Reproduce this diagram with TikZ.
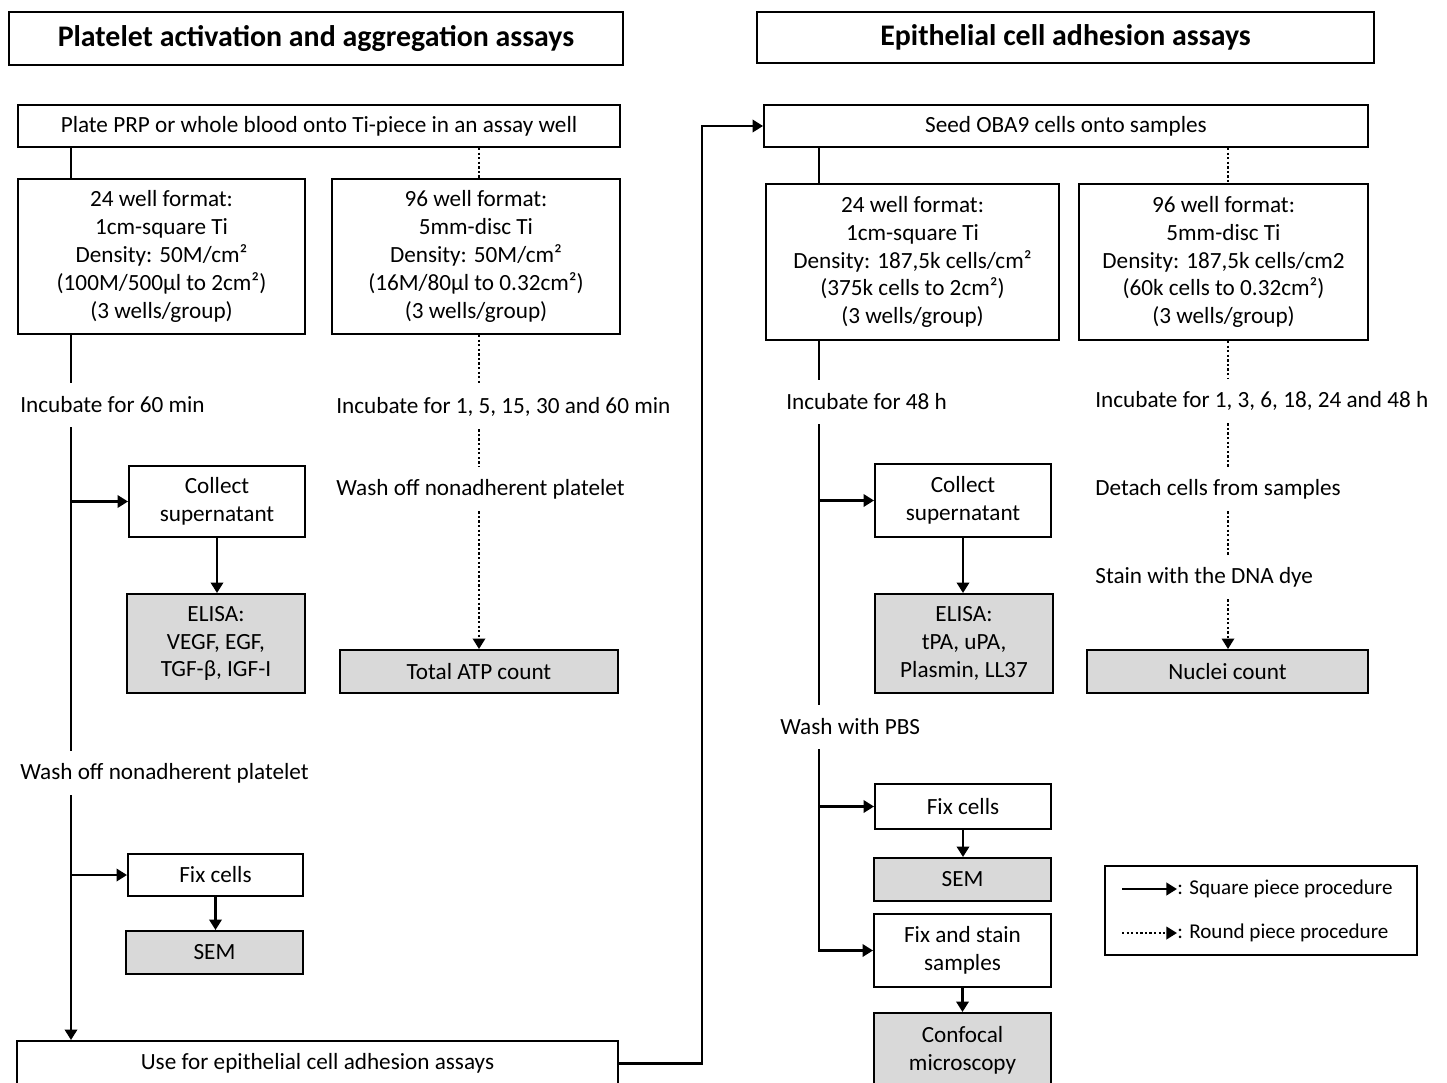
\documentclass[tikz,border=0pt]{standalone}
\usepackage{fontspec}
\setmainfont{Carlito}
\usetikzlibrary{arrows.meta,positioning}
\definecolor{boxgray}{HTML}{D9D9D9}
\tikzset{
  titlebox/.style = {draw, line width=1.6pt, inner sep=0pt, font=\fontsize{17}{20}\selectfont\bfseries},
  stepbox/.style = {draw, line width=1.1pt, align=center, inner sep=0pt, font=\fontsize{13.2}{15.9}\selectfont},
  resultbox/.style = {stepbox, fill=boxgray},
  steplabel/.style = {anchor=west, inner sep=0pt, minimum height=0.88cm, font=\fontsize{13.2}{15.9}\selectfont},
  legendtext/.style = {anchor=west, inner sep=0pt, font=\fontsize{12}{14}\selectfont},
  solidline/.style = {line width=1.6pt},
  solidarrow/.style = {solidline, -{Triangle[length=6pt,width=7pt]}},
  dotline/.style = {line width=1.4pt, dash pattern=on 1.3pt off 1.3pt},
  dotarrow/.style = {dotline, -{Triangle[length=6pt,width=7pt]}},
}

\begin{document}
\begin{tikzpicture}[x=0.02cm, y=-0.02cm]
\useasboundingbox (0,0) rectangle (1447,1082);
\clip (0,0) rectangle (1447,1082);

% where the vertical lines run
\coordinate (trunkP) at (71,0);
\coordinate (dotP) at (479,0);
\coordinate (trunkE) at (819,0);
\coordinate (dotE) at (1228,0);
\coordinate (loop) at (702,0);

% Platelet activation and aggregation assays
\node[titlebox, minimum width=12.28cm, minimum height=1.06cm] (titleP) at (316,38.5) {Platelet activation and aggregation assays};
\node[stepbox, minimum width=12.04cm, minimum height=0.84cm] (plate) at (319,126) {Plate PRP or whole blood onto Ti-piece in an assay well};
\node[stepbox, minimum width=5.74cm, minimum height=3.1cm] (well24P) at (161.5,256.5) {24 well format:\\1cm-square Ti\\Density: 50M/cm²\\(100M/500µl to 2cm²)\\(3 wells/group)};
\node[stepbox, minimum width=5.76cm, minimum height=3.1cm] (well96P) at (476,256.5) {96 well format:\\5mm-disc Ti\\Density: 50M/cm²\\(16M/80µl to 0.32cm²)\\(3 wells/group)};
\node[steplabel] (incP) at (20,405) {Incubate for 60 min};
\node[steplabel] (inc96P) at (336,407) {Incubate for 1, 5, 15, 30 and 60 min};
\node[steplabel] (wash96P) at (336,489) {Wash off nonadherent platelet};
\node[stepbox, minimum width=3.52cm, minimum height=1.42cm] (collectP) at (217,501.5) {Collect\\supernatant};
\node[resultbox, minimum width=3.56cm, minimum height=1.98cm] (elisaP) at (216,643.5) {ELISA:\\VEGF, EGF,\\TGF-β, IGF-I};
\node[resultbox, minimum width=5.56cm, minimum height=0.86cm] (atp) at (479,671.5) {Total ATP count};
\node[steplabel] (washP) at (20,773) {Wash off nonadherent platelet};
\node[stepbox, minimum width=3.5cm, minimum height=0.84cm] (fixP) at (215.5,875) {Fix cells};
\node[resultbox, minimum width=3.54cm, minimum height=0.86cm] (semP) at (214.5,952.5) {SEM};
\node[stepbox, minimum width=12.02cm, minimum height=0.9cm] (use) at (317.5,1063.5) {Use for epithelial cell adhesion assays};

\draw[solidline] (plate.south -| trunkP) -- (well24P.north -| trunkP);
\draw[solidline] (well24P.south -| trunkP) -- (incP.north -| trunkP);
\draw[solidline] (incP.south -| trunkP) -- (washP.north -| trunkP);
\draw[solidarrow] (washP.south -| trunkP) -- (use.north -| trunkP);
\draw[solidarrow] (collectP.west -| trunkP) -- (collectP.west);
\draw[solidarrow] (collectP.south) -- (collectP.south |- elisaP.north);
\draw[solidarrow] (fixP.west -| trunkP) -- (fixP.west);
\draw[solidarrow] (fixP.south) -- (fixP.south |- semP.north);

\draw[dotline] (plate.south -| dotP) -- (well96P.north -| dotP);
\draw[dotline] (well96P.south -| dotP) -- (inc96P.north -| dotP);
\draw[dotline] (inc96P.south -| dotP) -- (wash96P.north -| dotP);
\draw[dotarrow] (wash96P.south -| dotP) -- (atp.north -| dotP);

% Epithelial cell adhesion assays
\node[titlebox, minimum width=12.34cm, minimum height=1.02cm] (titleE) at (1065.5,37.5) {Epithelial cell adhesion assays};
\node[stepbox, minimum width=12.08cm, minimum height=0.84cm] (seed) at (1066,126) {Seed OBA9 cells onto samples};
\node[stepbox, minimum width=5.86cm, minimum height=3.12cm] (well24E) at (912.5,262) {24 well format:\\1cm-square Ti\\Density: 187,5k cells/cm²\\(375k cells to 2cm²)\\(3 wells/group)};
\node[stepbox, minimum width=5.78cm, minimum height=3.12cm] (well96E) at (1223.5,262) {96 well format:\\5mm-disc Ti\\Density: 187,5k cells/cm2\\(60k cells to 0.32cm²)\\(3 wells/group)};
\node[steplabel] (incE) at (786,402) {Incubate for 48 h};
\node[steplabel] (inc96E) at (1095,401) {Incubate for 1, 3, 6, 18, 24 and 48 h};
\node[steplabel] (detach) at (1095,489) {Detach cells from samples};
\node[steplabel] (stain) at (1095,577) {Stain with the DNA dye};
\node[stepbox, minimum width=3.52cm, minimum height=1.46cm] (collectE) at (963,500.5) {Collect\\supernatant};
\node[resultbox, minimum width=3.56cm, minimum height=1.98cm] (elisaE) at (964,643.5) {ELISA:\\tPA, uPA,\\Plasmin, LL37};
\node[resultbox, minimum width=5.62cm, minimum height=0.86cm] (nuclei) at (1227.5,671.5) {Nuclei count};
\node[steplabel] (washE) at (780,727) {Wash with PBS};
\node[stepbox, minimum width=3.52cm, minimum height=0.9cm] (fixE) at (963,806.5) {Fix cells};
\node[resultbox, minimum width=3.54cm, minimum height=0.86cm] (semE) at (962.5,879.5) {SEM};
\node[stepbox, minimum width=3.54cm, minimum height=1.46cm] (fixstain) at (962.5,950.5) {Fix and stain\\samples};
\node[resultbox, minimum width=3.54cm, minimum height=1.5cm] (confocal) at (962.5,1050.5) {Confocal\\microscopy};

\draw[solidarrow] (use.east) -- (use.east -| loop) -- (seed.west -| loop) -- (seed.west);
\draw[solidline] (seed.south -| trunkE) -- (well24E.north -| trunkE);
\draw[solidline] (well24E.south -| trunkE) -- (incE.north -| trunkE);
\draw[solidline] (incE.south -| trunkE) -- (washE.north -| trunkE);
\draw[solidarrow] (washE.south -| trunkE) -- (fixstain.west -| trunkE) -- (fixstain.west);
\draw[solidarrow] (collectE.west -| trunkE) -- (collectE.west);
\draw[solidarrow] (collectE.south) -- (collectE.south |- elisaE.north);
\draw[solidarrow] (fixE.west -| trunkE) -- (fixE.west);
\draw[solidarrow] (fixE.south) -- (fixE.south |- semE.north);
\draw[solidarrow] (fixstain.south) -- (fixstain.south |- confocal.north);

\draw[dotline] (seed.south -| dotE) -- (well96E.north -| dotE);
\draw[dotline] (well96E.south -| dotE) -- (inc96E.north -| dotE);
\draw[dotline] (inc96E.south -| dotE) -- (detach.north -| dotE);
\draw[dotline] (detach.south -| dotE) -- (stain.north -| dotE);
\draw[dotarrow] (stain.south -| dotE) -- (nuclei.north -| dotE);

% Legend
\node[draw, line width=1.1pt, minimum width=6.24cm, minimum height=1.78cm] (legend) at (1261,910.5) {};
\node[legendtext] (squaretext) at (1177,889) {: Square piece procedure};
\node[legendtext] (roundtext) at (1177,933) {: Round piece procedure};
\coordinate (squarefrom) at (1122,889);
\coordinate (roundfrom) at (1122,933);
\draw[solidarrow] (squarefrom) -- (squaretext.west);
\draw[dotarrow] (roundfrom) -- (roundtext.west);

\end{tikzpicture}
\end{document}
